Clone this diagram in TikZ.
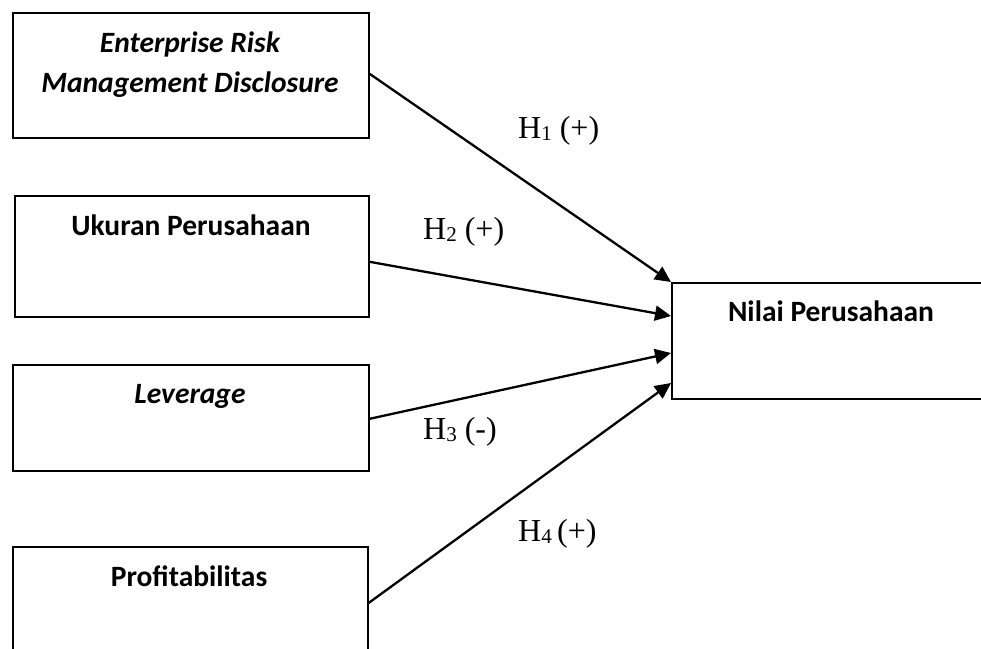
\documentclass[tikz,border=0pt]{standalone}
\usepackage{fontspec}
\setmainfont{Liberation Serif}
\newfontfamily\calibri{Carlito}
\usetikzlibrary{arrows.meta,calc}
\newcommand\hsub[1]{\raisebox{-2pt}{\fontsize{21}{21}\selectfont #1}}
\begin{document}
\begin{tikzpicture}[x=1pt,y=-1pt,
  box/.style={draw,line width=1.6pt,rectangle,inner sep=0pt,anchor=north west},
  boxtxt/.style={font=\calibri\bfseries\fontsize{29.5}{35}\selectfont,inner sep=0pt,anchor=base},
  boxtxti/.style={font=\calibri\bfseries\itshape\fontsize{29.5}{35}\selectfont,inner sep=0pt,anchor=base},
  hyp/.style={font=\fontsize{32}{38}\selectfont,inner sep=0pt,anchor=base west},
  arr/.style={line width=2.3pt,-{Triangle[length=16pt,width=15pt]}}]
\useasboundingbox (0,0) rectangle (981,648);
\clip (0,0) rectangle (981,648);

% boxes
\node[box,minimum width=356pt,minimum height=125pt] (erm) at (12,12) {};
\node[box,minimum width=354pt,minimum height=121pt] (uk) at (14,195) {};
\node[box,minimum width=356pt,minimum height=106pt] (lev) at (12,364) {};
\node[box,minimum width=355pt,minimum height=130pt] (prof) at (12,546) {};
\node[box,minimum width=320pt,minimum height=116pt] (nilai) at (671,282) {};

% texts
\node[boxtxti] (ermt1) at (190,52) {Enterprise Risk};
\node[boxtxti] (ermt2) at (190,92) {Management Disclosure};
\node[boxtxt] (ukt) at (191,235) {Ukuran Perusahaan};
\node[boxtxti] (levt) at (190,403) {Leverage};
\node[boxtxt] (proft) at (189,586) {Profitabilitas};
\node[boxtxt] (nilait) at (831,321) {Nilai Perusahaan};

% arrows
\draw[arr] ([yshift=1.5pt]erm.east) -- (nilai.north west);
\draw[arr] ([yshift=-5.5pt]uk.east) -- ([yshift=-34pt]nilai.north west);
\draw[arr] ([yshift=-1pt]lev.east) -- ([yshift=-71pt]nilai.north west);
\draw[arr] ([yshift=-57pt]prof.north east) -- ([yshift=-101pt]nilai.north west);

% hypothesis labels
\node[hyp] (h1) at (518,138) {H\hsub{1} (+)};
\node[hyp] (h2) at (423,239) {H\hsub{2} (+)};
\node[hyp] (h3) at (423,439) {H\hsub{3} (-)};
\node[hyp] (h4) at (518,541) {H\hsub{4}\,(+)};
\end{tikzpicture}
\end{document}
